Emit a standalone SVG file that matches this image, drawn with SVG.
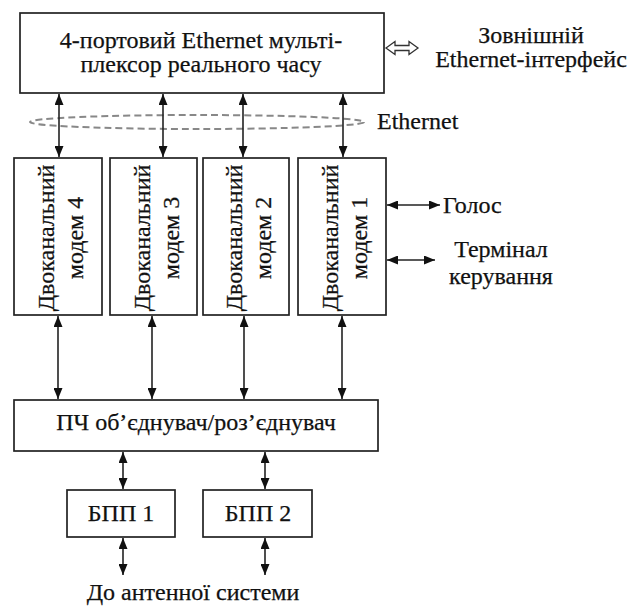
<svg xmlns="http://www.w3.org/2000/svg" width="640" height="606" viewBox="0 0 640 606">
<style>
.box{fill:#fff;stroke:#222;stroke-width:1.7}
.t{font-family:"Liberation Serif","Times New Roman","DejaVu Serif",serif;font-size:24px;fill:#111;stroke:#111;stroke-width:0.25}
.m{text-anchor:middle}
.c{stroke:#222;stroke-width:1.6;fill:none;marker-start:url(#ah);marker-end:url(#ah)}
</style>
<defs>
<marker id="ah" viewBox="0 0 11 9" refX="11" refY="4.5" markerWidth="11" markerHeight="9" markerUnits="userSpaceOnUse" orient="auto-start-reverse">
<path d="M0,0 L11,4.5 L0,9 z" fill="#111"/>
</marker>
</defs>
<rect width="640" height="606" fill="#fff"/>

<g id="mux">
<rect class="box" x="20" y="13" width="364" height="80"/>
<text class="t m" x="201" y="48">4-портовий Ethernet мульті-</text>
<text class="t m" x="201" y="72">плексор реального часу</text>
</g>

<g id="ext">
<path d="M386,48 L395,41.5 L395,45.5 L409,45.5 L409,41.5 L418,48 L409,54.5 L409,50.5 L395,50.5 L395,54.5 Z" fill="#fff" stroke="#333" stroke-width="1.3"/>
<text class="t m" x="531" y="43">Зовнішній</text>
<text class="t m" x="531" y="67">Ethernet-інтерфейс</text>
</g>

<g id="ethernet">
<ellipse cx="197" cy="122" rx="167" ry="7" fill="none" stroke="#888" stroke-width="2" stroke-dasharray="7,4"/>
<text class="t" x="377" y="129">Ethernet</text>
</g>

<g id="modem4">
<rect class="box" x="14" y="158" width="88" height="157"/>
<text class="t m" transform="translate(54,238) rotate(-90)">Двоканальний</text>
<text class="t m" transform="translate(83,238) rotate(-90)">модем 4</text>
</g>
<g id="modem3">
<rect class="box" x="110" y="158" width="87" height="157"/>
<text class="t m" transform="translate(149.5,238) rotate(-90)">Двоканальний</text>
<text class="t m" transform="translate(178.5,238) rotate(-90)">модем 3</text>
</g>
<g id="modem2">
<rect class="box" x="203" y="158" width="86" height="157"/>
<text class="t m" transform="translate(242,238) rotate(-90)">Двоканальний</text>
<text class="t m" transform="translate(271,238) rotate(-90)">модем 2</text>
</g>
<g id="modem1">
<rect class="box" x="298" y="158" width="88" height="157"/>
<text class="t m" transform="translate(338,238) rotate(-90)">Двоканальний</text>
<text class="t m" transform="translate(367,238) rotate(-90)">модем 1</text>
</g>

<g id="voice"><text class="t" x="443" y="213">Голос</text></g>
<g id="terminal">
<text class="t m" x="501" y="257">Термінал</text>
<text class="t m" x="501" y="284">керування</text>
</g>

<g id="combiner">
<rect class="box" x="14" y="400" width="364" height="51"/>
<text class="t m" x="196" y="430">ПЧ об’єднувач/роз’єднувач</text>
</g>

<g id="bpp1">
<rect class="box" x="67" y="490" width="108" height="47"/>
<text class="t m" x="121" y="521">БПП 1</text>
</g>
<g id="bpp2">
<rect class="box" x="203" y="490" width="109" height="47"/>
<text class="t m" x="258" y="521">БПП 2</text>
</g>

<g id="antenna"><text class="t m" x="193" y="600">До антенної системи</text></g>

<g id="connectors">
<line class="c" x1="59" y1="94" x2="59" y2="157"/>
<line class="c" x1="163" y1="94" x2="163" y2="157"/>
<line class="c" x1="243" y1="94" x2="243" y2="157"/>
<line class="c" x1="343" y1="94" x2="343" y2="157"/>
<line class="c" x1="387" y1="205" x2="440" y2="205"/>
<line class="c" x1="387" y1="260" x2="435" y2="260"/>
<line class="c" x1="58" y1="316" x2="58" y2="399"/>
<line class="c" x1="152" y1="316" x2="152" y2="399"/>
<line class="c" x1="244" y1="316" x2="244" y2="399"/>
<line class="c" x1="342" y1="316" x2="342" y2="399"/>
<line class="c" x1="123" y1="452" x2="123" y2="489"/>
<line class="c" x1="265" y1="452" x2="265" y2="489"/>
<line class="c" x1="123" y1="538" x2="123" y2="575"/>
<line class="c" x1="265" y1="538" x2="265" y2="575"/>
</g>
</svg>
